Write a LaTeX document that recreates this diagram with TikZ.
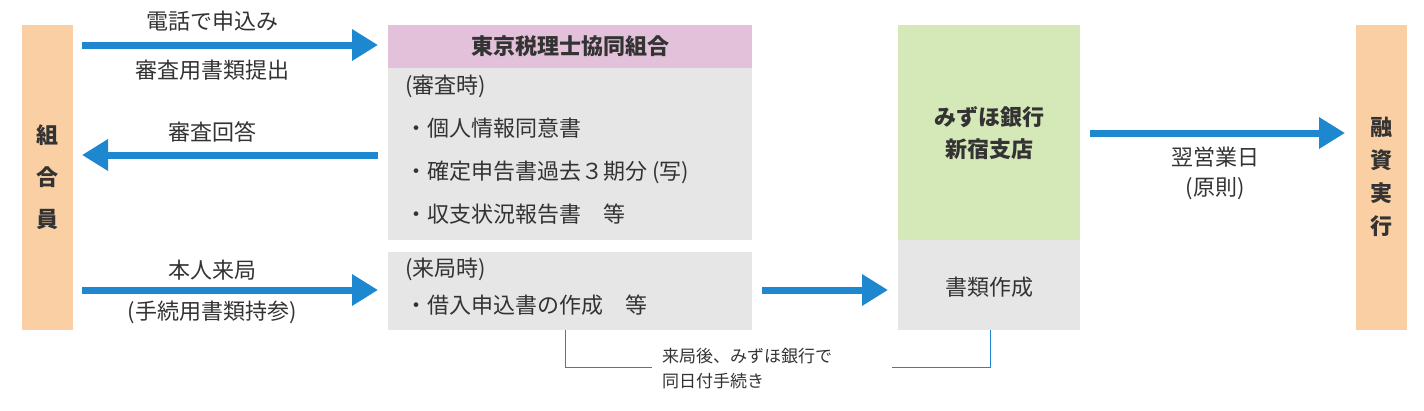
\documentclass[tikz,border=0pt]{standalone}
\usepackage{fontspec}
\setmainfont{Noto Sans CJK JP}
\usetikzlibrary{arrows.meta}
\definecolor{peach}{HTML}{F9CFA3}
\definecolor{pinkh}{HTML}{E4C1DA}
\definecolor{grayb}{HTML}{E6E6E6}
\definecolor{greenb}{HTML}{D5E8B8}
\definecolor{blueA}{HTML}{1D87CF}
\begin{document}
\begin{tikzpicture}[x=1pt,y=-1pt,
  txt/.style={font=\fontsize{22}{28}\selectfont,text=black!80,inner sep=0pt},
  barr/.style={blueA,line width=7pt,-{Triangle[length=26pt,width=30pt]}},
  thin/.style={blueA,line width=1pt}]
\useasboundingbox (0,0) rectangle (1424,410);
% side bars
\fill[peach] (22,25) rectangle (73,330);
\node[txt,align=center,font=\fontsize{22}{42}\selectfont\bfseries] (kumiai) at (47.5,177) {組\\合\\員};
\fill[peach] (1356,25) rectangle (1407,330);
\node[txt,align=center,font=\fontsize{22}{33}\selectfont\bfseries] (yushi) at (1381.5,177) {融\\資\\実\\行};
% central boxes
\fill[pinkh] (388,25) rectangle (752,68);
\node[txt,font=\fontsize{22}{28}\selectfont\bfseries] (tokyo) at (570,46.5) {東京税理士協同組合};
\fill[grayb] (388,68) rectangle (752,240);
\node[txt,anchor=north west,align=left,font=\fontsize{22}{43}\selectfont] (sinsa) at (405,75) {(審査時)\\・個人情報同意書\\・確定申告書過去３期分 (写)\\・収支状況報告書\quad 等};
\fill[grayb] (388,252) rectangle (752,330);
\node[txt,anchor=north west,align=left,font=\fontsize{22}{37}\selectfont] (raikyoku) at (405,258) {(来局時)\\・借入申込書の作成\quad 等};
% bank
\fill[greenb] (898,25) rectangle (1080,240);
\node[txt,align=center,font=\fontsize{22}{32}\selectfont\bfseries] (bank) at (989,133) {みずほ銀行\\新宿支店};
\fill[grayb] (898,240) rectangle (1080,330);
\node[txt] (shorui) at (989,287) {書類作成};
% coordinates for arrows
\coordinate (a1s) at (82,45); \coordinate (a1e) at (378,45);
\coordinate (a2s) at (378,155); \coordinate (a2e) at (82,155);
\coordinate (a3s) at (82,290); \coordinate (a3e) at (378,290);
\coordinate (a4s) at (762,290); \coordinate (a4e) at (888,290);
\coordinate (a5s) at (1090,133); \coordinate (a5e) at (1345,133);
\draw[barr] (a1s) -- (a1e);
\draw[barr] (a2s) -- (a2e);
\draw[barr] (a3s) -- (a3e);
\draw[barr] (a4s) -- (a4e);
\draw[barr] (a5s) -- (a5e);
% labels
\node[txt] (l1) at (212,21) {電話で申込み};
\node[txt] (l2) at (212,70) {審査用書類提出};
\node[txt] (l3) at (212,132) {審査回答};
\node[txt] (l4) at (212,270) {本人来局};
\node[txt] (l5) at (212,312) {(手続用書類持参)};
\node[txt,align=center,font=\fontsize{22}{30}\selectfont] (l6) at (1215,173) {翌営業日\\(原則)};
% bracket
\node[txt,align=left,anchor=west,font=\fontsize{17}{25}\selectfont] (note) at (662,369) {来局後、みずほ銀行で\\同日付手続き};
\coordinate (b1) at (565,330); \coordinate (b2) at (990,330);
\draw[thin] (b1) |- (652,367);
\draw[thin] (b2) |- (892,367);
\end{tikzpicture}
\end{document}
